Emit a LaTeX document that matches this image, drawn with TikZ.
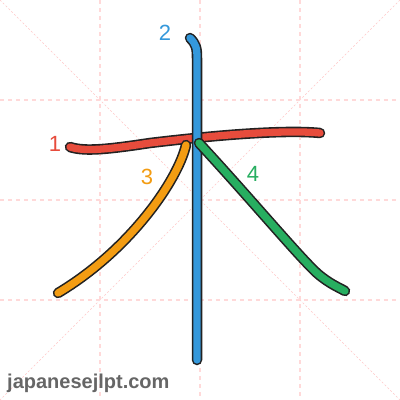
\documentclass[tikz,border=0pt]{standalone}
\usepackage{fontspec}
\setmainfont{Liberation Sans}
\definecolor{gridc}{HTML}{FFD9D9}
\definecolor{diagc}{HTML}{FFC8C8}
\definecolor{sred}{HTML}{E74C3C}
\definecolor{sblue}{HTML}{3498DB}
\definecolor{sorange}{HTML}{F39C12}
\definecolor{sgreen}{HTML}{27AE60}
\definecolor{outl}{HTML}{222222}
\definecolor{site}{HTML}{666666}
\tikzset{
  gridline/.style={gridc, line width=1.3pt, dash pattern=on 4pt off 4pt},
  diagline/.style={diagc, line width=0.6pt, dash pattern=on 2pt off 2pt},
  outer/.style={outl, line width=10.5pt, line cap=round, line join=round},
  inner/.style={line width=7.3pt, line cap=round, line join=round},
  numlabel/.style={font=\fontsize{22}{24}\selectfont, inner sep=0pt}
}
\begin{document}
\begin{tikzpicture}[x=1pt,y=-1pt]
\useasboundingbox (0,0) rectangle (400,400);
\fill[white] (0,0) rectangle (400,400);
% grid
\draw[diagline] (0,0) -- (400,400);
\draw[diagline] (400,0) -- (0,400);
\foreach \v in {100,200,300}{
  \draw[gridline] (\v,0) -- (\v,400);
  \draw[gridline] (0,\v) -- (400,\v);
}
% stroke paths
\def\pone{(70,147) .. controls (85,152) and (110,149) .. (150,143) .. controls (200,137) and (280,129) .. (320,133)}
\def\ptwo{(190,38) .. controls (196,44) and (197,48) .. (197,58) -- (197,360)}
\def\pthree{(186,145) .. controls (178,180) and (130,250) .. (58,293)}
\def\pfour{(199,143) .. controls (250,198) and (300,258) .. (318,274) .. controls (330,284) and (338,287) .. (345,291)}
% stroke 1
\draw[outer] \pone;
\draw[inner, sred] \pone;
% stroke 2
\draw[outer] \ptwo;
\draw[inner, sblue] \ptwo;
% stroke 3
\draw[outer] \pthree;
\draw[inner, sorange] \pthree;
% stroke 4
\draw[outer] \pfour;
\draw[inner, sgreen] \pfour;
% labels
\node[numlabel, text=sred] (n1) at (55,144) {1};
\node[numlabel, text=sblue] (n2) at (165,33) {2};
\node[numlabel, text=sorange] (n3) at (147,177) {3};
\node[numlabel, text=sgreen] (n4) at (253,174) {4};
\node[anchor=base west, inner sep=0pt, text=site, font=\bfseries\fontsize{20}{22}\selectfont] (site) at (7,388) {japanesejlpt.com};
\end{tikzpicture}
\end{document}
